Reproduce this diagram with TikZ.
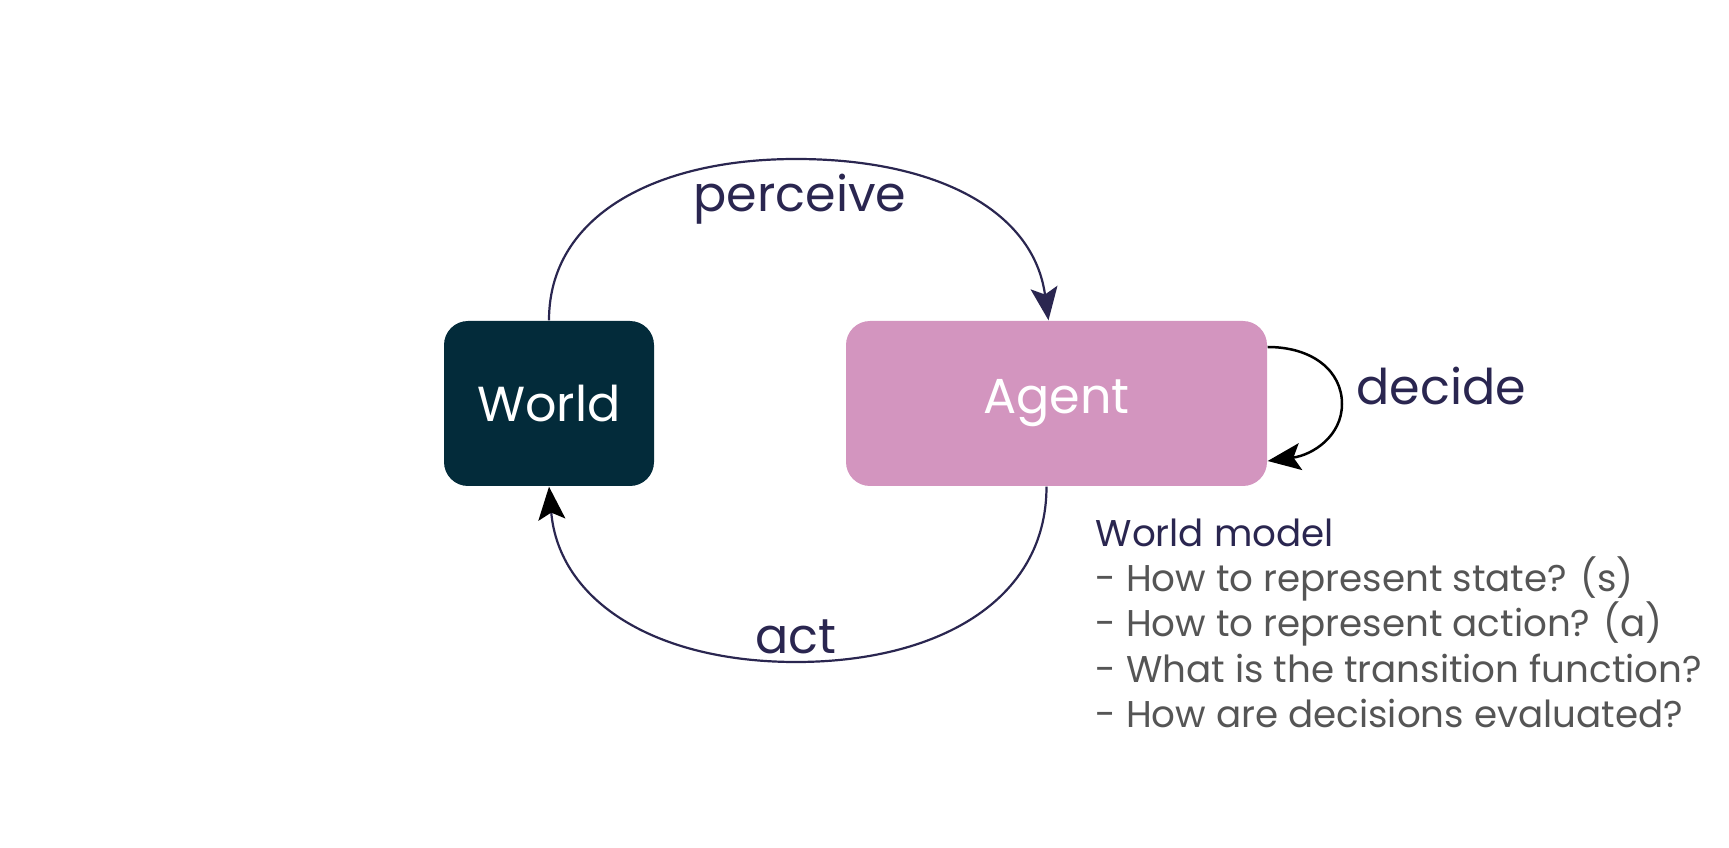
\documentclass[tikz,border=0pt]{standalone}
\usepackage{fontspec}
\setmainfont{Poppins}
\usetikzlibrary{arrows.meta}

\definecolor{worldteal}{HTML}{032B3A}
\definecolor{agentpink}{HTML}{D395BF}
\definecolor{inknavy}{HTML}{2A2650}
\definecolor{notegray}{HTML}{555555}

\tikzset{hd/.tip={Stealth[length=3.3mm, width=2.7mm, inset=0.7mm]}}

\begin{document}
\begin{tikzpicture}[x=0.1mm, y=-0.1mm,
    box/.style={rectangle, rounded corners=2.4mm, minimum height=16.5mm,
        inner sep=0pt, text=white, font=\fontsize{14}{17}\selectfont},
    flow/.style={draw=inknavy, line width=0.22mm},
    lbl/.style={text=inknavy, inner sep=0pt, font=\fontsize{14}{17}\selectfont}]

%% 画布大小(像素坐标, y 向下)
\useasboundingbox (0,0) rectangle (1729,848);

%% 两个方框
\node[box, fill=worldteal, minimum width=21mm]   (world) at (549,403.5) {World};
\node[box, fill=agentpink, minimum width=42.1mm] (agent) at (1056.5,403.5) {Agent};

%% 弧线的转折点
\coordinate (perceivetop) at (796,159);
\coordinate (actbottom)   at (796,662);
\coordinate (decideright) at (1342,404);

%% perceive: World --> Agent
\draw[flow, -{hd[color=inknavy]}] (world.north)
    .. controls +(0,-105) and +(-140,0) .. (perceivetop)
    .. controls +(140,0) and +(-15,-110) .. ([xshift=-0.8mm]agent.north);

%% act: Agent --> World
\draw[flow, -{hd[color=black]}] ([xshift=-1mm]agent.south)
    .. controls +(0,115) and +(140,0) .. (actbottom)
    .. controls +(-140,0) and +(10,115) .. (world.south);

%% decide: Agent 自环
\draw[black, line width=0.25mm, -{hd}] ([yshift=5.65mm]agent.east)
    .. controls +(45,0) and +(0,-33) .. (decideright)
    .. controls +(0,32) and +(45,-6) .. ([yshift=-5.75mm]agent.east);

%% 标签
\node[lbl] (perceive) at (800,199) {perceive};
\node[lbl] (act)      at (796,637) {act};
\node[lbl, anchor=west] (decide) at (1356,386) {decide};

%% 右下角说明文字
\node[anchor=north west, inner sep=0pt, align=left, text=notegray,
      font=\fontsize{10.6}{12.9}\selectfont] (notes) at (1095,518)
    {\textcolor{inknavy}{World model}\\
     - How to represent state? (s)\\
     - How to represent action? (a)\\
     - What is the transition function?\\
     - How are decisions evaluated?};

\end{tikzpicture}
\end{document}
